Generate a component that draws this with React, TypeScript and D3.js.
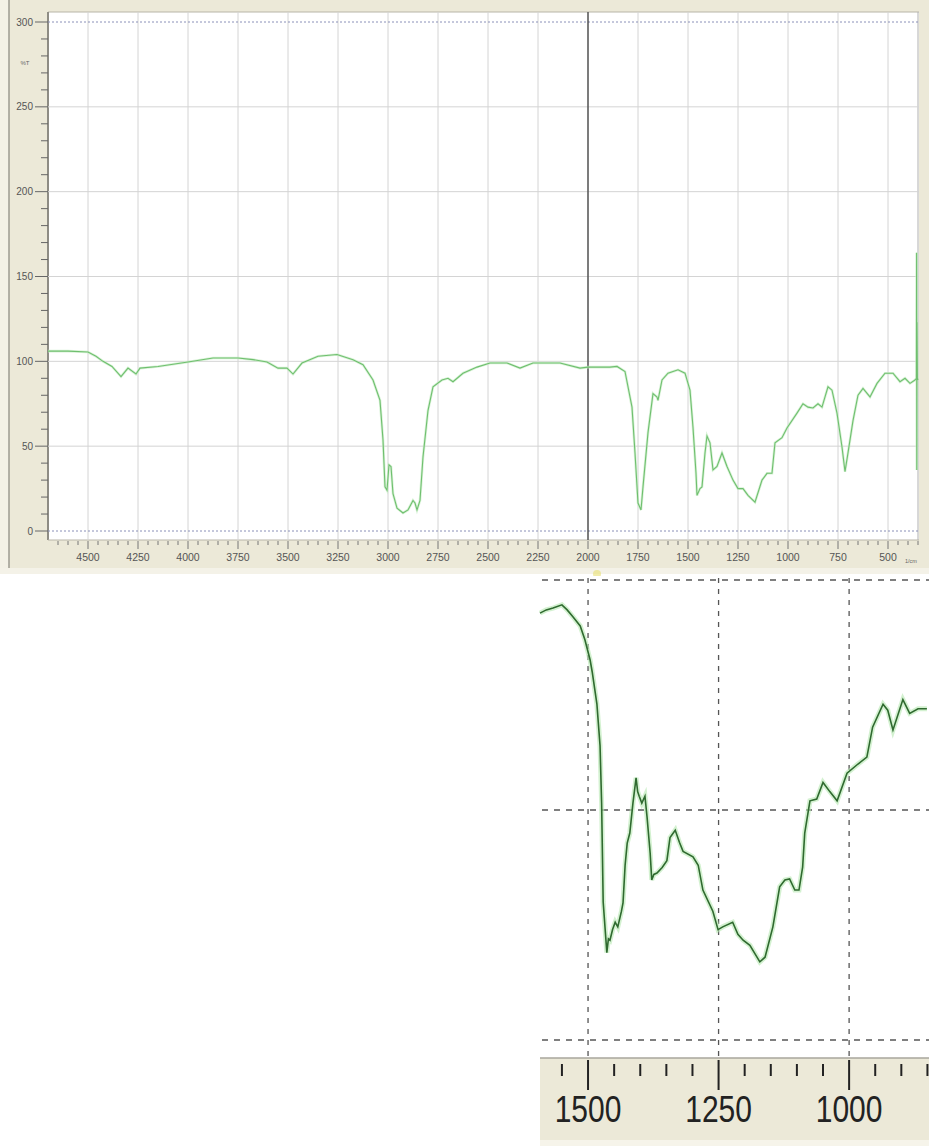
import React from "react";
import * as d3 from "d3";

// Full IR spectrum: [wavenumber (1/cm), %T]
const fullSpectrum: [number, number][] = [
  [4700, 106], [4600, 106], [4500, 105.5], [4460, 103], [4425, 100], [4380, 97],
  [4335, 91], [4300, 96], [4260, 92.5], [4240, 96], [4150, 97], [4000, 99.6],
  [3875, 102], [3750, 102], [3675, 101], [3605, 99.6], [3550, 96], [3505, 96],
  [3475, 92.5], [3430, 99], [3350, 103], [3255, 104], [3175, 101], [3125, 98],
  [3075, 89], [3040, 77], [3025, 53.6], [3015, 26], [3005, 24], [2995, 39],
  [2985, 38], [2975, 22], [2955, 13.5], [2925, 10.6], [2900, 12.4], [2875, 18],
  [2865, 16.5], [2855, 12.4], [2840, 18], [2825, 43.6], [2800, 71], [2775, 85],
  [2730, 89], [2700, 90], [2675, 88], [2625, 93], [2555, 96.6], [2490, 99],
  [2405, 99], [2340, 96], [2275, 99], [2175, 99], [2140, 99], [2040, 96],
  [2000, 96.6], [1890, 96.6], [1855, 97], [1815, 94], [1780, 73], [1765, 46],
  [1750, 16.5], [1735, 12.4], [1725, 26], [1700, 58], [1675, 81], [1655, 79],
  [1650, 77], [1630, 89], [1600, 93], [1550, 95], [1515, 93], [1490, 83],
  [1475, 61], [1460, 34], [1455, 21], [1440, 25], [1430, 26], [1415, 46],
  [1405, 56], [1390, 52], [1375, 36], [1355, 38], [1330, 46], [1305, 38],
  [1275, 30], [1250, 25], [1225, 25], [1200, 21], [1165, 17], [1130, 30],
  [1105, 34], [1080, 34], [1065, 52], [1030, 55], [1005, 60.7], [955, 69.5],
  [925, 75], [900, 73], [875, 72.5], [850, 75], [830, 73], [800, 85],
  [780, 83], [755, 69.5], [730, 49.5], [715, 35], [700, 46], [675, 65],
  [650, 80], [625, 84], [590, 79], [555, 87], [515, 93], [475, 93],
  [440, 88], [415, 90], [390, 87], [365, 89], [358, 90], [357, 164],
  [356, 36], [355, 123], [353, 90], [350, 89],
];

// Zoomed detail of the 1600–850 1/cm region
const detailSpectrum: [number, number][] = [
  [1592, 92.8], [1580, 93.5], [1567, 93.9], [1550, 94.6], [1540, 93.5], [1529, 92],
  [1515, 90], [1506, 87], [1496, 82.6], [1492, 80], [1483, 73], [1477, 64],
  [1474, 51.5], [1471, 30], [1464, 19], [1461, 22], [1458, 21.7], [1453, 24],
  [1448, 25.6], [1443, 24.6], [1436, 28], [1433, 29.8], [1429, 38], [1425, 42.8],
  [1420, 45], [1414, 51.5], [1408, 57], [1405, 54], [1402, 53], [1397, 51.5],
  [1391, 53], [1387, 48.5], [1381, 40.6], [1378, 34.8], [1374, 36], [1368, 36.3],
  [1358, 37.5], [1349, 39], [1343, 44], [1333, 45.6], [1325, 43], [1318, 41],
  [1299, 39.8], [1289, 38], [1280, 32.6], [1261, 28], [1251, 24], [1242, 24.6],
  [1223, 25.6], [1213, 23], [1203, 21.7], [1190, 20.6], [1171, 17], [1161, 18],
  [1146, 24.6], [1133, 33.3], [1123, 34.8], [1114, 35], [1104, 32.6], [1096, 32.6],
  [1089, 37.6], [1085, 45], [1075, 52], [1062, 52.4], [1050, 56], [1037, 54],
  [1023, 52], [1004, 58], [983, 60], [966, 61.5], [955, 68], [935, 73],
  [926, 71.7], [916, 67.4], [897, 74], [884, 71], [868, 72], [851, 72],
];

const mainXTicks = [4500, 4250, 4000, 3750, 3500, 3250, 3000, 2750, 2500, 2250, 2000, 1750, 1500, 1250, 1000, 750, 500];
const mainYTicks = [0, 50, 100, 150, 200, 250, 300];
const detailXTicks = [1500, 1250, 1000];
const detailYTicks = [0, 50, 100];
const cursorWavenumber = 2000;

export default function App() {
  const W = 929, H = 1146;
  // main chart geometry
  const pL = 48, pR = 919, pT = 12, pB = 540;
  const x = d3.scaleLinear().domain([4700, 345]).range([pL, pR]);
  const y = d3.scaleLinear().domain([0, 300]).range([531, 22]);
  const line = d3.line<[number, number]>().x(d => x(d[0])).y(d => y(d[1]));

  const minorX = d3.range(4650, 349, -50);
  const minorY = d3.range(0, 301, 10);

  // inset geometry
  const iL = 540, iR = 929, iT = 576, iB = 1058;
  const ix = d3.scaleLinear().domain([1592, 847]).range([iL, iR]);
  const iy = d3.scaleLinear().domain([0, 100]).range([1040, 580]);
  const iline = d3.line<[number, number]>().x(d => ix(d[0])).y(d => iy(d[1]));
  const iMinor = d3.range(1550, 849, -50);

  const font = "'Liberation Sans', Arial, sans-serif";

  return (
    <svg width={W} height={H} style={{ position: "absolute", left: 0, top: 0, display: "block" }} fontFamily={font}>
      <rect x={0} y={0} width={W} height={H} fill="#ffffff" />
      {/* main chart frame */}
      <rect x={0} y={0} width={W} height={568} fill="#ece9d8" />
      <rect x={0} y={568} width={W} height={6} fill="#f4f2e8" />
      <rect x={0} y={0} width={9} height={568} fill="#f3f1e6" />
      <line x1={9} x2={9} y1={0} y2={568} stroke="#9c9a90" strokeWidth={1.5} />
      <rect x={pL} y={pT} width={pR - pL} height={pB - pT} fill="#ffffff" />
      <line x1={pL} x2={pR} y1={pT} y2={pT} stroke="#b8b5a8" />
      <line x1={pL} x2={pL} y1={pT} y2={pB} stroke="#8e8c84" strokeWidth={2} />
      <line x1={pR - 1} x2={pR - 1} y1={pT} y2={pB} stroke="#b0b0b0" />
      <line x1={pL} x2={pR} y1={pB} y2={pB} stroke="#b8b5a8" />

      {/* grid */}
      {mainXTicks.map(t => (
        <line key={"gx" + t} x1={x(t)} x2={x(t)} y1={pT} y2={pB} stroke="#d4d4d4" strokeWidth={1} />
      ))}
      {mainYTicks.map(t => (
        t === 0 || t === 300 ? (
          <line key={"gy" + t} x1={pL} x2={pR} y1={y(t)} y2={y(t)} stroke="#8a90b8" strokeWidth={1} strokeDasharray="2,2" />
        ) : (
          <line key={"gy" + t} x1={pL} x2={pR} y1={y(t)} y2={y(t)} stroke="#d4d4d4" strokeWidth={1} />
        )
      ))}
      <line x1={x(cursorWavenumber)} x2={x(cursorWavenumber)} y1={pT} y2={pB} stroke="#333333" strokeWidth={1.2} />

      {/* y axis */}
      {minorY.map(t => (
        <line key={"my" + t} x1={t % 50 === 0 ? 35 : 41} x2={pL} y1={y(t)} y2={y(t)} stroke="#666" strokeWidth={1} />
      ))}
      {mainYTicks.map(t => (
        <text key={"ly" + t} x={33} y={y(t)} dy="0.35em" textAnchor="end" fontSize={10} fill="#555">{t}</text>
      ))}
      <text x={25} y={65} textAnchor="middle" fontSize={6} fill="#666">%T</text>

      {/* x axis */}
      {minorX.map(t => (
        <line key={"mx" + t} x1={x(t)} x2={x(t)} y1={pB + 1} y2={t % 250 === 0 ? pB + 9 : pB + 5} stroke="#777" strokeWidth={1} />
      ))}
      {mainXTicks.map(t => (
        <text key={"lx" + t} x={x(t)} y={561} textAnchor="middle" fontSize={10.5} fill="#555">{t}</text>
      ))}
      <text x={911} y={563} textAnchor="middle" fontSize={5.5} fill="#666">1/cm</text>
      <circle cx={597} cy={574} r={4} fill="#e8e070" opacity={0.6} />

      {/* main spectrum */}
      <path d={line(fullSpectrum) || ""} fill="none" stroke="#c8ecc4" strokeWidth={2.6} opacity={0.7} />
      <path d={line(fullSpectrum) || ""} fill="none" stroke="#6fbf6f" strokeWidth={1.1} />

      {/* inset */}
      <rect x={iL} y={iT} width={iR - iL} height={iB - iT} fill="#ffffff" />
      {detailXTicks.map(t => (
        <line key={"igx" + t} x1={ix(t)} x2={ix(t)} y1={iT + 2} y2={iB} stroke="#555" strokeWidth={1.3} strokeDasharray="5,6" />
      ))}
      {detailYTicks.map(t => (
        <line key={"igy" + t} x1={iL + 2} x2={iR} y1={iy(t)} y2={iy(t)} stroke="#555" strokeWidth={1.3} strokeDasharray="6,6" />
      ))}
      <path d={iline(detailSpectrum) || ""} fill="none" stroke="#b6e8b0" strokeWidth={5} opacity={0.6} />
      <path d={iline(detailSpectrum) || ""} fill="none" stroke="#2f6a2f" strokeWidth={1.6} />

      <rect x={iL} y={iB} width={iR - iL} height={1140 - iB} fill="#ece9d8" />
      <line x1={iL} x2={iR} y1={iB} y2={iB} stroke="#a8a69c" strokeWidth={1.5} />
      <rect x={iL} y={1140} width={iR - iL} height={6} fill="#f6f4ea" />
      {iMinor.map(t => {
        const major = detailXTicks.includes(t);
        return (
          <line key={"imx" + t} x1={ix(t)} x2={ix(t)} y1={major ? 1060 : 1064} y2={major ? 1090 : 1076} stroke="#222" strokeWidth={2} />
        );
      })}
      {detailXTicks.map(t => (
        <text key={"ilx" + t} transform={`translate(${ix(t)},1122) scale(1,1.22)`} textAnchor="middle" fontSize={30} fill="#222">{t}</text>
      ))}
    </svg>
  );
}
